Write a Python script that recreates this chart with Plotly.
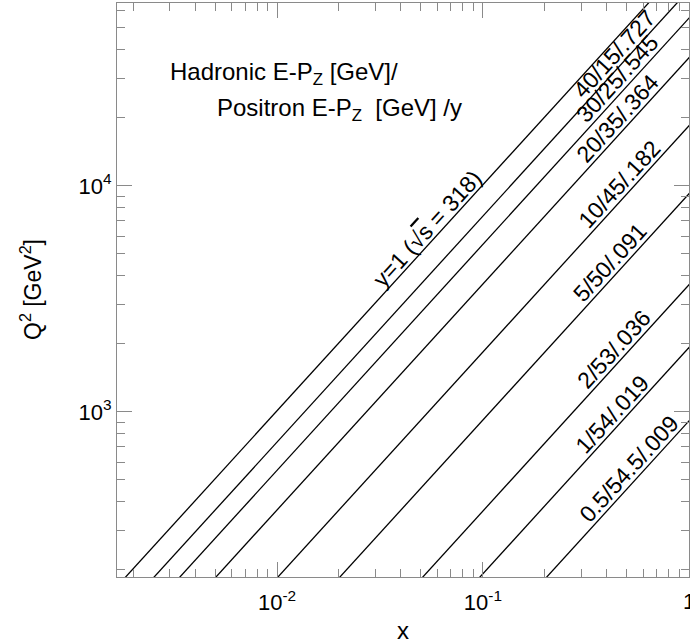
import math
import plotly.graph_objects as go

# ---------------- data ----------------
sqrt_s = 318.0                       # GeV
y_values = [1.0, 0.727, 0.545, 0.364, 0.182, 0.091, 0.036, 0.019, 0.009]
line_labels = ["y=1 (√<span style='text-decoration:overline'>s</span> = 318)",
               "40/15/.727", "30/25/.545", "20/35/.364",
               "10/45/.182", "5/50/.091", "2/53/.036", "1/54/.019", "0.5/54.5/.009"]
label_x = [0.059, 0.48, 0.50, 0.50, 0.51, 0.46, 0.48, 0.47, 0.565]

x_tickvals = [0.01, 0.1]
x_ticktext = ["10<sup>-2</sup>", "10<sup>-1</sup>"]
x_edge_tick = 1.0
x_edge_text = "1"
y_tickvals = [1e3, 1e4]
y_ticktext = ["10<sup>3</sup>", "10<sup>4</sup>"]

x_range = [0.00167, 1.003]
y_range = [186.0, 64500.0]
x_line_ends = [1e-3, 1.1]

# ---------------- figure ----------------
FONT = "Liberation Sans, Arial, Helvetica, sans-serif"
GRAY = "#8a8a8a"
s = sqrt_s ** 2

fig = go.Figure()
for yv in y_values:
    fig.add_trace(go.Scatter(
        x=x_line_ends, y=[s * xx * yv for xx in x_line_ends],
        mode="lines", line=dict(color="black", width=1.3),
        showlegend=False, hoverinfo="skip"))

W, H = 690, 644
ml, mr, mt, mb = 117, 1, 3, 67
pw, ph = W - ml - mr, H - mt - mb
dec_x = pw / (math.log10(x_range[1]) - math.log10(x_range[0]))
dec_y = ph / (math.log10(y_range[1]) - math.log10(y_range[0]))
ang = math.degrees(math.atan2(dec_y, dec_x))
off = 12.0
xs = -off * math.sin(math.radians(ang))
ys = off * math.cos(math.radians(ang))

for txt, yv, lx in zip(line_labels, y_values, label_x):
    fig.add_annotation(
        x=math.log10(lx), y=math.log10(s * lx * yv), xref="x", yref="y",
        text=txt, showarrow=False, textangle=-ang,
        xanchor="center", yanchor="middle", xshift=xs, yshift=ys,
        font=dict(family=FONT, size=23, color="black"))

def px(X):
    return (X - ml) / pw

def py(Y):
    return (H - mb - Y) / ph

fig.add_annotation(x=px(168), y=py(73), xref="paper", yref="paper",
                   text="Hadronic E-P<sub>Z</sub> [GeV]/", showarrow=False,
                   xanchor="left", yanchor="middle",
                   font=dict(family=FONT, size=24, color="black"))
fig.add_annotation(x=px(215), y=py(109), xref="paper", yref="paper",
                   text="Positron E-P<sub>Z</sub>&nbsp; [GeV] /y", showarrow=False,
                   xanchor="left", yanchor="middle",
                   font=dict(family=FONT, size=24, color="black"))
# tick label at the right edge (partly cut by the page edge, as in the reference)
fig.add_annotation(x=math.log10(x_edge_tick), y=0, xref="x", yref="paper",
                   text=x_edge_text, showarrow=False, xanchor="center", yanchor="top",
                   yshift=-10, font=dict(family=FONT, size=22, color="black"))
# axis titles
fig.add_annotation(x=px(403), y=py(630), xref="paper", yref="paper",
                   text="x", showarrow=False, xanchor="center", yanchor="middle",
                   font=dict(family=FONT, size=24, color="black"))
fig.add_annotation(x=px(31), y=py(290), xref="paper", yref="paper",
                   text="Q<sup>2</sup> [GeV<sup>2</sup>]", showarrow=False,
                   textangle=-90, xanchor="center", yanchor="middle",
                   font=dict(family=FONT, size=23, color="black"))

axis_common = dict(
    type="log", showgrid=False, zeroline=False,
    showline=True, linecolor=GRAY, linewidth=1, mirror="ticks",
    ticks="inside", ticklen=15, tickcolor=GRAY, tickwidth=1,
    tickfont=dict(family=FONT, size=22, color="black"),
    minor=dict(ticks="inside", ticklen=8, tickcolor=GRAY, dtick="D1", showgrid=False),
)

fig.update_xaxes(range=[math.log10(v) for v in x_range],
                 tickmode="array", tickvals=x_tickvals + [x_edge_tick],
                 ticktext=x_ticktext + [""],
                 ticklabelstandoff=6, **axis_common)
fig.update_yaxes(range=[math.log10(v) for v in y_range],
                 tickmode="array", tickvals=y_tickvals, ticktext=y_ticktext,
                 **axis_common)

fig.update_layout(width=W, height=H, margin=dict(l=ml, r=mr, t=mt, b=mb),
                  paper_bgcolor="white", plot_bgcolor="white",
                  showlegend=False)

fig.write_html("out.html")
